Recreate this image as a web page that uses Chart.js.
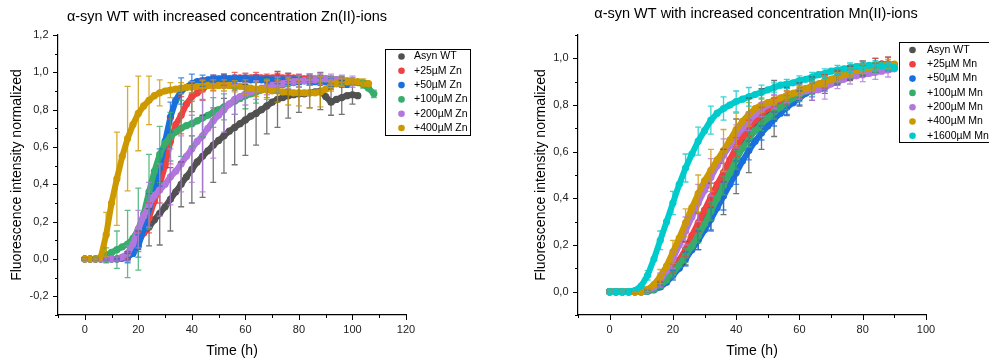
<!DOCTYPE html>
<html>
<head>
<meta charset="utf-8">
<script src="https://cdn.jsdelivr.net/npm/chart.js@4.4.0/dist/chart.umd.min.js"></script>
<style>
  body { margin: 0; background: #fff; width: 989px; height: 363px; overflow: hidden; position: relative; }
  canvas { position: absolute; top: 0; }
  #zn { left: 0; }
  #mn { left: 520px; }
</style>
</head>
<body>
<canvas id="zn" width="490" height="363"></canvas>
<canvas id="mn" width="469" height="363"></canvas>
<script>
// Origin default colour list
const colors = ['#515151', '#F14040', '#1A6FDF', '#37AD6B', '#B177DE', '#CC9900', '#00CBCC'];

// ---- Zn(II) panel ----
const znLabels = ['Asyn WT', '+25µM Zn', '+50µM Zn', '+100µM Zn', '+200µM Zn', '+400µM Zn'];
const znXTicks = [0, 20, 40, 60, 80, 100, 120];
const znYTicks = [-0.2, 0, 0.2, 0.4, 0.6, 0.8, 1.0, 1.2];
const znTime = [0,2,4,6,8,10,12,14,16,18,20,22,24,26,28,30,32,34,36,38,40,42,44,46,48,50,52,54,56,58,60,62,64,66,68,70,72,74,76,78,80,82,84,86,88,90,92,94,96,98,100,102,104,106,108];
const znWT = [0,0,0,0,0,0,0,0.005,0.01,0.04,
  0.10,0.14,0.17,0.21,0.245,0.28,0.32,0.36,0.40,0.44,
  0.48,0.52,0.55,0.58,0.61,0.635,0.66,0.685,0.705,0.725,
  0.745,0.765,0.78,0.80,0.82,0.84,0.855,0.865,0.875,0.88,
  0.885,0.885,0.89,0.895,0.90,0.87,0.84,0.855,0.865,0.875,
  0.88,0.875,null,null,null];
const znZn25 = [0,0,0,0,0,0,0,0.005,0.02,0.05,
  0.09,0.14,0.22,0.31,0.40,0.50,0.63,0.72,0.77,0.83,
  0.87,0.89,0.91,0.93,0.945,0.955,0.96,0.965,0.97,0.97,
  0.97,0.97,0.975,0.97,0.97,0.97,0.975,0.97,0.97,0.97,
  0.97,0.965,0.97,0.965,0.965,0.965,0.96,0.96,0.96,null,
  null,null,null,null,null];
const znZn50 = [0,0,0,0,0,0,0,0.005,0.01,0.03,
  0.07,0.16,0.27,0.37,0.49,0.63,0.76,0.85,0.90,0.92,
  0.94,0.95,0.955,0.96,0.965,0.965,0.97,0.965,0.965,0.965,
  0.965,0.96,0.965,0.96,0.96,0.96,0.96,0.96,0.955,0.96,
  0.955,0.955,0.95,0.95,0.95,0.95,0.945,0.94,0.94,0.935,
  null,null,null,null,null];
const znZn100 = [0,0,0,0.005,0.02,0.035,0.05,0.065,0.08,0.11,
  0.16,0.24,0.36,0.47,0.56,0.62,0.655,0.68,0.70,0.715,
  0.725,0.74,0.755,0.77,0.785,0.80,0.815,0.83,0.845,0.86,
  0.875,0.885,0.895,0.905,0.915,0.925,0.93,0.935,0.94,0.945,
  0.95,0.955,0.96,0.96,0.965,0.965,0.96,0.96,0.955,0.955,
  0.95,0.945,0.935,0.915,0.885];
const znZn200 = [0,0,0,0,0,0,0,0.01,0.03,0.08,
  0.16,0.23,0.29,0.34,0.37,0.40,0.44,0.47,0.51,0.55,
  0.59,0.63,0.66,0.70,0.74,0.77,0.80,0.83,0.855,0.87,
  0.885,0.895,0.905,0.915,0.92,0.93,0.935,0.94,0.945,0.95,
  0.955,0.955,0.96,0.96,0.965,0.965,0.96,0.96,0.955,0.95,
  0.95,null,null,null,null];
const znZn400 = [0,0,0,0.01,0.13,0.30,0.43,0.55,0.645,0.72,
  0.78,0.82,0.85,0.875,0.89,0.90,0.905,0.91,0.915,0.92,
  0.92,0.925,0.925,0.93,0.93,0.93,0.93,0.93,0.925,0.925,
  0.92,0.915,0.91,0.91,0.905,0.90,0.90,0.895,0.895,0.89,
  0.89,0.89,0.89,0.89,0.895,0.91,0.93,0.94,0.945,0.95,
  0.95,0.95,0.945,0.94,null];

// error bars (±SD) shown every 4 h
const znErrTime = [0,4,8,12,16,20,24,28,32,36,40,44,48,52,56,60,64,68,72,76,80,84,88,92,96,100,104,108];
const znErrWT = [0.005,0.005,0.005,0.01,0.02,0.05,0.1,0.17,0.17,0.12,0.18,0.22,0.2,0.2,0.2,0.19,0.17,0.15,0.15,0.12,0.1,0.08,0.1,0.07,0.09,0.05,null,null];
const znErr25 = [0.005,0.005,0.005,0.005,0.02,0.05,0.08,0.1,0.12,0.1,0.08,0.06,0.04,0.03,0.03,0.025,0.025,0.02,0.02,0.02,0.02,0.02,0.02,0.02,0.02,null,null,null];
const znErr50 = [0.005,0.005,0.005,0.005,0.03,0.06,0.08,0.1,0.08,0.07,0.05,0.03,0.02,0.02,0.02,0.02,0.02,0.02,0.02,0.02,0.02,0.02,0.02,0.02,0.02,null,null,null];
const znErr100 = [0.005,0.01,0.04,0.1,0.18,0.22,0.2,0.15,0.13,0.15,0.12,0.1,0.08,0.07,0.07,0.07,0.06,0.05,0.04,0.03,0.03,0.03,0.02,0.02,0.02,0.02,0.02,0.02];
const znErr200 = [0.005,0.005,0.005,0.01,0.04,0.1,0.12,0.14,0.15,0.15,0.18,0.3,0.2,0.12,0.08,0.06,0.05,0.04,0.04,0.03,0.03,0.03,0.03,0.03,0.03,0.03,null,null];
const znErr400 = [0.005,0.005,0.12,0.25,0.28,0.2,0.13,0.07,0.04,0.03,0.03,0.03,0.03,0.03,0.03,0.04,0.04,0.05,0.06,0.07,0.07,0.08,0.08,0.03,0.02,0.02,0.02,null];

// ---- Mn(II) panel ----
const mnLabels = ['Asyn WT', '+25µM Mn', '+50µM Mn', '+100µM Mn', '+200µM Mn', '+400µM Mn', '+1600µM Mn'];
const mnXTicks = [0, 20, 40, 60, 80, 100];
const mnYTicks = [0, 0.2, 0.4, 0.6, 0.8, 1.0];
const mnTime = [0,2,4,6,8,10,12,14,16,18,20,22,24,26,28,30,32,34,36,38,40,42,44,46,48,50,52,54,56,58,60,62,64,66,68,70,72,74,76,78,80,82,84,86,88,90];
const mnWT = [0,0,0,0,0,0,0.004,0.012,0.03,0.055,
  0.09,0.125,0.165,0.21,0.26,0.31,0.365,0.42,0.47,0.525,
  0.58,0.63,0.67,0.71,0.74,0.765,0.785,0.80,0.815,0.83,
  0.845,0.86,0.87,0.88,0.89,0.90,0.915,0.925,0.935,0.945,
  0.955,0.96,0.97,0.975,0.975,0.97];
const mnMn25 = [0,0,0,0,0,0,0.005,0.015,0.035,0.065,
  0.10,0.135,0.18,0.24,0.295,0.35,0.405,0.46,0.51,0.565,
  0.62,0.665,0.70,0.735,0.76,0.785,0.80,0.815,0.83,0.845,
  0.86,0.87,0.88,0.89,0.90,0.91,0.92,0.93,0.94,0.95,
  0.96,0.965,0.97,0.975,0.975,0.97];
const mnMn50 = [0,0,0,0,0,0,0.002,0.008,0.02,0.04,
  0.07,0.10,0.14,0.18,0.22,0.265,0.31,0.36,0.41,0.46,
  0.51,0.56,0.605,0.645,0.68,0.71,0.74,0.765,0.79,0.81,
  0.83,0.85,0.865,0.875,0.89,0.90,0.91,0.92,0.93,0.94,
  0.95,0.955,0.96,0.965,0.965,0.96];
const mnMn100 = [0,0,0,0,0,0,0.003,0.01,0.025,0.05,
  0.08,0.115,0.155,0.195,0.24,0.29,0.345,0.40,0.455,0.51,
  0.565,0.615,0.655,0.69,0.72,0.745,0.77,0.79,0.81,0.83,
  0.845,0.86,0.875,0.885,0.895,0.905,0.915,0.925,0.935,0.945,
  0.95,0.955,0.96,0.965,0.965,0.965];
const mnMn200 = [0,0,0,0,0,0,0.005,0.02,0.05,0.09,
  0.14,0.20,0.26,0.32,0.38,0.435,0.49,0.54,0.585,0.625,
  0.665,0.70,0.73,0.76,0.78,0.80,0.815,0.83,0.84,0.85,
  0.855,0.86,0.86,0.865,0.875,0.89,0.90,0.91,0.92,0.925,
  0.93,0.935,0.94,0.945,0.95,0.955];
const mnMn400 = [0,0,0,0,0,0,0.01,0.03,0.065,0.11,
  0.17,0.23,0.295,0.36,0.42,0.475,0.52,0.565,0.605,0.65,
  0.695,0.73,0.76,0.785,0.80,0.81,0.82,0.83,0.84,0.85,
  0.86,0.87,0.88,0.89,0.90,0.91,0.92,0.93,0.94,0.95,
  0.955,0.96,0.965,0.97,0.975,0.975];
const mnMn1600 = [0,0,0,0,0.005,0.025,0.07,0.14,0.22,0.30,
  0.38,0.46,0.53,0.59,0.645,0.69,0.735,0.765,0.785,0.80,
  0.815,0.825,0.835,0.845,0.855,0.865,0.875,0.885,0.89,0.895,
  0.905,0.91,0.92,0.93,0.935,0.945,0.95,0.955,0.96,0.965,
  0.968,0.97,0.97,0.968,0.965,0.96];

const mnErrTime = [0,4,8,12,16,20,24,28,32,36,40,44,48,52,56,60,64,68,72,76,80,84,88];
const mnErrWT = [0.003,0.003,0.003,0.005,0.01,0.03,0.05,0.08,0.1,0.14,0.16,0.16,0.13,0.12,0.06,0.05,0.05,0.04,0.03,0.03,0.03,0.03,0.03];
const mnErr25 = [0.003,0.003,0.003,0.005,0.01,0.02,0.03,0.04,0.04,0.04,0.04,0.035,0.03,0.03,0.03,0.03,0.03,0.03,0.03,0.03,0.03,0.03,0.03];
const mnErr50 = [0.003,0.003,0.003,0.005,0.01,0.02,0.03,0.04,0.05,0.06,0.05,0.04,0.03,0.03,0.03,0.03,0.03,0.03,0.02,0.02,0.02,0.02,0.02];
const mnErr100 = [0.003,0.003,0.003,0.005,0.01,0.02,0.03,0.03,0.04,0.04,0.04,0.035,0.03,0.03,0.03,0.03,0.03,0.02,0.02,0.02,0.02,0.02,0.02];
const mnErr200 = [0.003,0.003,0.003,0.005,0.03,0.04,0.06,0.08,0.08,0.07,0.05,0.04,0.03,0.03,0.03,0.03,0.04,0.05,0.03,0.03,0.03,0.03,0.03];
const mnErr400 = [0.003,0.003,0.003,0.01,0.03,0.05,0.06,0.08,0.09,0.09,0.07,0.05,0.03,0.02,0.02,0.02,0.02,0.02,0.02,0.02,0.02,0.02,0.02];
const mnErr1600 = [0.003,0.003,0.003,0.02,0.04,0.05,0.06,0.06,0.06,0.05,0.045,0.04,0.03,0.02,0.02,0.02,0.02,0.02,0.02,0.02,0.02,0.02,0.02];

Chart.defaults.font.family = "'Liberation Sans', Arial, sans-serif";
Chart.defaults.color = '#000';

function withAlpha(hex, a) {
  const n = parseInt(hex.slice(1), 16);
  return `rgba(${n >> 16},${(n >> 8) & 255},${n & 255},${a})`;
}

function commaLabel(v) {
  return (Math.round(v * 10) / 10).toFixed(1).replace('.', ',');
}

// error bars drawn through the scales, after the symbols
const errorBars = {
  id: 'errorBars',
  afterDatasetsDraw(chart) {
    const {ctx, scales: {x, y}} = chart;
    ctx.save();
    ctx.lineWidth = 1.3;
    chart.data.datasets.forEach((ds, i) => {
      ctx.strokeStyle = withAlpha(colors[i], 0.8);
      ds.errTime.forEach((t, k) => {
        const e = ds.errs[k];
        const p = ds.data.find(d => d.x === t);
        if (e == null || !p) return;
        const px = x.getPixelForValue(t);
        const top = y.getPixelForValue(p.y + e);
        const bot = y.getPixelForValue(p.y - e);
        ctx.beginPath();
        ctx.moveTo(px, top); ctx.lineTo(px, bot);
        ctx.moveTo(px - 3, top); ctx.lineTo(px + 3, top);
        ctx.moveTo(px - 3, bot); ctx.lineTo(px + 3, bot);
        ctx.stroke();
      });
    });
    ctx.restore();
  }
};

// outward major/minor ticks like Origin
const axisTicks = {
  id: 'axisTicks',
  afterDraw(chart) {
    const {ctx, scales: {x, y}, chartArea: a} = chart;
    ctx.save();
    ctx.strokeStyle = '#000';
    ctx.lineWidth = 1;
    for (let v = x.min; v <= x.max + 0.001; v += 10) {
      const px = Math.round(x.getPixelForValue(v)) + 0.5;
      const len = Math.round(v) % 20 === 0 ? 5 : 3;
      ctx.beginPath(); ctx.moveTo(px, a.bottom); ctx.lineTo(px, a.bottom + len); ctx.stroke();
    }
    for (let k = Math.round(y.min * 10); k <= Math.round(y.max * 10); k++) {
      const py = Math.round(y.getPixelForValue(k / 10)) + 0.5;
      const len = k % 2 === 0 ? 5 : 3;
      ctx.beginPath(); ctx.moveTo(a.left, py); ctx.lineTo(a.left - len, py); ctx.stroke();
    }
    ctx.restore();
  }
};

// title and boxed legend inside the frame
const decor = {
  id: 'decor',
  afterDraw(chart, args, o) {
    const ctx = chart.ctx;
    ctx.save();
    ctx.fillStyle = '#000';
    ctx.font = "14.5px 'Liberation Sans', Arial, sans-serif";
    ctx.textAlign = 'center';
    ctx.textBaseline = 'middle';
    ctx.fillText(o.title, o.titleX, o.titleY);

    const lg = o.legend;
    ctx.fillStyle = '#fff';
    ctx.fillRect(lg.x, lg.y, lg.w, lg.h);
    ctx.strokeStyle = '#000';
    ctx.lineWidth = 1;
    ctx.strokeRect(lg.x + 0.5, lg.y + 0.5, lg.w, lg.h);
    ctx.font = "10.5px 'Liberation Sans', Arial, sans-serif";
    ctx.textAlign = 'left';
    chart.data.datasets.forEach((ds, i) => {
      const yy = lg.y + lg.first + i * lg.row;
      ctx.fillStyle = colors[i];
      ctx.beginPath();
      ctx.arc(lg.x + lg.mx, yy, 3.3, 0, Math.PI * 2);
      ctx.fill();
      ctx.fillStyle = '#000';
      ctx.fillText(ds.label, lg.x + lg.tx, yy);
    });
    ctx.restore();
  }
};

function makeChart(id, p) {
  const datasets = p.series.map((vals, i) => ({
    label: p.labels[i],
    data: p.time.map((t, j) => vals[j] == null ? null : {x: t, y: vals[j]}).filter(d => d),
    errTime: p.errTime,
    errs: p.errs[i],
    borderColor: colors[i],
    backgroundColor: colors[i],
    borderWidth: 6,
    borderJoinStyle: 'round',
    borderCapStyle: 'round',
    pointRadius: 3.6,
    pointBorderWidth: 0,
    showLine: true,
    order: p.series.length - i
  }));

  return new Chart(document.getElementById(id), {
    type: 'scatter',
    data: {datasets},
    plugins: [errorBars, axisTicks, decor],
    options: {
      responsive: false,
      animation: false,
      devicePixelRatio: 1,
      layout: {padding: {left: 0, top: 35, right: p.padRight, bottom: 0}},
      plugins: {
        legend: {display: false},
        tooltip: {enabled: false},
        decor: {title: p.title, titleX: p.titleX, titleY: p.titleY, legend: p.legend}
      },
      scales: {
        x: {
          type: 'linear', min: p.xMin, max: p.xMax,
          afterFit: s => { s.height = 48; },
          afterBuildTicks: s => { s.ticks = p.xTicks.map(v => ({value: v})); },
          grid: {display: false, drawTicks: false},
          border: {display: true, color: '#000', width: 1.2},
          ticks: {autoSkip: false, maxRotation: 0, padding: 8,
                  font: {size: 11}, color: '#222'},
          title: {display: true, text: 'Time (h)', font: {size: 14},
                  padding: {top: 0, bottom: 3.6}}
        },
        y: {
          min: p.yMin, max: p.yMax,
          afterFit: s => { s.width = p.yWidth; },
          afterBuildTicks: s => { s.ticks = p.yTicks.map(v => ({value: v})); },
          grid: {display: false, drawTicks: false},
          border: {display: true, color: '#000', width: 1.2},
          ticks: {autoSkip: false, padding: 9.5,
                  font: {size: 11}, color: '#222', callback: commaLabel},
          title: {display: true, text: 'Fluorescence intensity normalized', font: {size: 14},
                  padding: {top: p.yTitlePad, bottom: 0}}
        }
      }
    }
  });
}

makeChart('zn', {
  title: 'α-syn WT with increased concentration Zn(II)-ions', titleX: 227, titleY: 17,
  labels: znLabels, time: znTime,
  series: [znWT, znZn25, znZn50, znZn100, znZn200, znZn400],
  errTime: znErrTime,
  errs: [znErrWT, znErr25, znErr50, znErr100, znErr200, znErr400],
  xMin: -10, xMax: 120, yMin: -0.3, yMax: 1.2,
  xTicks: znXTicks, yTicks: znYTicks,
  padRight: 84, yWidth: 58, yTitlePad: 9,
  legend: {x: 385, y: 49, w: 85, h: 86, first: 7.5, row: 14.3, mx: 16.5, tx: 29}
});

makeChart('mn', {
  title: 'α-syn WT with increased concentration Mn(II)-ions', titleX: 236, titleY: 14,
  labels: mnLabels, time: mnTime,
  series: [mnWT, mnMn25, mnMn50, mnMn100, mnMn200, mnMn400, mnMn1600],
  errTime: mnErrTime,
  errs: [mnErrWT, mnErr25, mnErr50, mnErr100, mnErr200, mnErr400, mnErr1600],
  xMin: -10, xMax: 100, yMin: -0.1, yMax: 1.1,
  xTicks: mnXTicks, yTicks: mnYTicks,
  padRight: 63, yWidth: 58, yTitlePad: 13,
  legend: {x: 379, y: 42, w: 95, h: 100, first: 8, row: 14.3, mx: 13.5, tx: 28}
});
</script>
</body>
</html>
